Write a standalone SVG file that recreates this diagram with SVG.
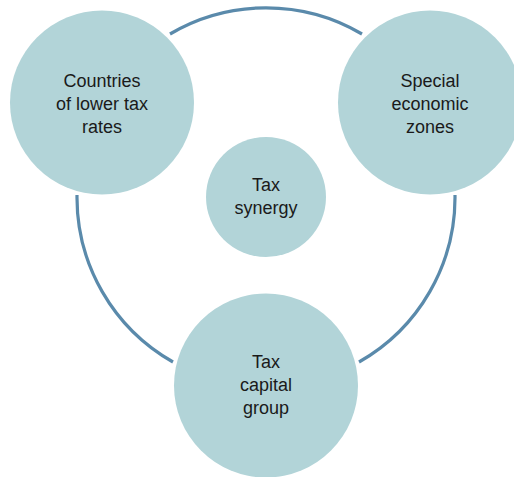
<svg xmlns="http://www.w3.org/2000/svg" width="514" height="477" viewBox="0 0 514 477">
<style>
.node circle{fill:#b2d4d8;}
.node text{font-family:"Liberation Sans",Arial,Helvetica,sans-serif;font-size:18px;fill:#1a1a1a;text-anchor:middle;}
.conn path{fill:none;stroke:#5a8aab;stroke-width:3.2;}
</style>
<rect width="514" height="477" fill="#ffffff"/>
<g id="connectors" class="conn">
<path d="M170,34 A189.4,189.4 0 0 1 362,34"/>
<path d="M455,195 A189.4,189.4 0 0 1 359,362"/>
<path d="M173,362 A189.4,189.4 0 0 1 77,195"/>
</g>
<g id="node-countries" class="node">
<circle cx="102" cy="102.5" r="92"/>
<text x="102" y="87">Countries</text>
<text x="102" y="110">of lower tax</text>
<text x="102" y="133">rates</text>
</g>
<g id="node-sez" class="node">
<circle cx="430" cy="102.5" r="92"/>
<text x="430" y="87">Special</text>
<text x="430" y="110">economic</text>
<text x="430" y="133">zones</text>
</g>
<g id="node-synergy" class="node">
<circle cx="266" cy="197" r="60"/>
<text x="266" y="191">Tax</text>
<text x="266" y="214">synergy</text>
</g>
<g id="node-capital" class="node">
<circle cx="266" cy="385.5" r="92"/>
<text x="266" y="368">Tax</text>
<text x="266" y="391">capital</text>
<text x="266" y="414">group</text>
</g>
</svg>
